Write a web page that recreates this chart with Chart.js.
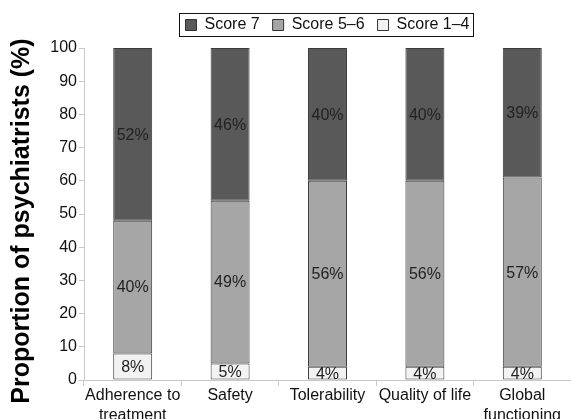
<!DOCTYPE html>
<html>
<head>
<meta charset="utf-8">
<script src="https://cdn.jsdelivr.net/npm/chart.js@4"></script>
<style>
  body { margin: 0; background: #fff; }
  #wrap { width: 571px; height: 419px; }
</style>
</head>
<body>
<div id="wrap"><canvas id="chart" width="571" height="419"></canvas></div>
<script>
const categories = [['Adherence to', 'treatment'], 'Safety', 'Tolerability', 'Quality of life', ['Global', 'functioning']];
const score14 = [8, 5, 4, 4, 4];
const score56 = [40, 49, 56, 56, 57];
const score7 = [52, 46, 40, 40, 39];
const yTicks = [0, 10, 20, 30, 40, 50, 60, 70, 80, 90, 100];
const yTitle = 'Proportion of psychiatrists (%)';

const font = 'Liberation Sans, Arial, sans-serif';

// percentage text inside every segment
const barLabels = {
    id: 'barLabels',
    afterDatasetsDraw(chart) {
        const ctx = chart.ctx;
        ctx.save();
        ctx.font = '16px ' + font;
        ctx.fillStyle = '#222';
        ctx.textAlign = 'center';
        ctx.textBaseline = 'middle';
        chart.data.datasets.forEach(function (ds, i) {
            chart.getDatasetMeta(i).data.forEach(function (bar, j) {
                ctx.fillText(ds.data[j] + '%', bar.x, (bar.y + bar.base) / 2 + 1);
            });
        });
        ctx.restore();
    }
};

// border round the legend, a bit more room under it, and the y title
const extras = {
    id: 'extras',
    beforeLayout(chart) {
        const lg = chart.legend;
        if (lg && !lg._patched) {
            const fit = lg.fit;
            lg.fit = function () { fit.call(this); this.height += 5; };
            lg._patched = true;
        }
    },
    afterDraw(chart) {
        const ctx = chart.ctx;
        const boxes = chart.legend.legendHitBoxes;
        ctx.save();
        if (boxes && boxes.length) {
            let l = Infinity, r = -Infinity, t = Infinity, b = -Infinity;
            boxes.forEach(function (h) {
                l = Math.min(l, h.left); r = Math.max(r, h.left + h.width);
                t = Math.min(t, h.top); b = Math.max(b, h.top + h.height);
            });
            ctx.strokeStyle = '#111';
            ctx.lineWidth = 1;
            ctx.strokeRect(Math.round(l - 6) + 0.5, Math.round(t - 4) + 0.5, Math.round(r - l + 10), Math.round(b - t + 7));
        }
        ctx.translate(22, 221);
        ctx.rotate(-Math.PI / 2);
        ctx.font = 'bold 25px ' + font;
        ctx.fillStyle = '#000';
        ctx.textAlign = 'center';
        ctx.textBaseline = 'middle';
        ctx.fillText(yTitle, 0, 0);
        ctx.restore();
    }
};

new Chart('chart', {
    type: 'bar',
    data: {
        labels: categories,
        datasets: [
            { label: 'Score 1\u20134', data: score14, backgroundColor: '#f2f2f2' },
            { label: 'Score 5\u20136', data: score56, backgroundColor: '#a6a6a6' },
            { label: 'Score 7', data: score7, backgroundColor: '#595959' }
        ]
    },
    options: {
        responsive: false,
        animation: false,
        layout: { padding: { top: 4, right: 0 } },
        datasets: {
            bar: {
                borderColor: '#3a3a3a',
                borderWidth: 1,
                borderSkipped: false,
                barPercentage: 0.4,
                categoryPercentage: 1
            }
        },
        plugins: {
            tooltip: { enabled: false },
            legend: {
                position: 'top',
                fullSize: false,
                reverse: true,
                labels: {
                    boxWidth: 11,
                    boxHeight: 11,
                    padding: 13,
                    color: '#111',
                    font: { size: 16, family: font },
                    generateLabels(chart) {
                        const items = Chart.defaults.plugins.legend.labels.generateLabels(chart);
                        items.forEach(function (it) { it.strokeStyle = '#333'; it.lineWidth = 1; });
                        return items;
                    }
                }
            }
        },
        scales: {
            x: {
                stacked: true,
                grid: { display: true, drawOnChartArea: false, tickLength: 6, color: '#c8c8c8', offset: true },
                border: { color: '#c8c8c8' },
                ticks: { color: '#111', font: { size: 16, family: font, lineHeight: 1.25 }, padding: 0, maxRotation: 0, autoSkip: false },
                afterFit(s) { s.height = 39; }
            },
            y: {
                stacked: true,
                min: 0,
                max: 100,
                afterBuildTicks(s) { s.ticks = yTicks.map(function (v) { return { value: v }; }); },
                grid: { display: true, drawOnChartArea: false, tickLength: 5, color: '#c8c8c8' },
                border: { color: '#c8c8c8' },
                ticks: { color: '#111', font: { size: 16, family: font }, padding: 2 },
                afterFit(s) { s.width = 84; }
            }
        }
    },
    plugins: [barLabels, extras]
});
</script>
</body>
</html>
